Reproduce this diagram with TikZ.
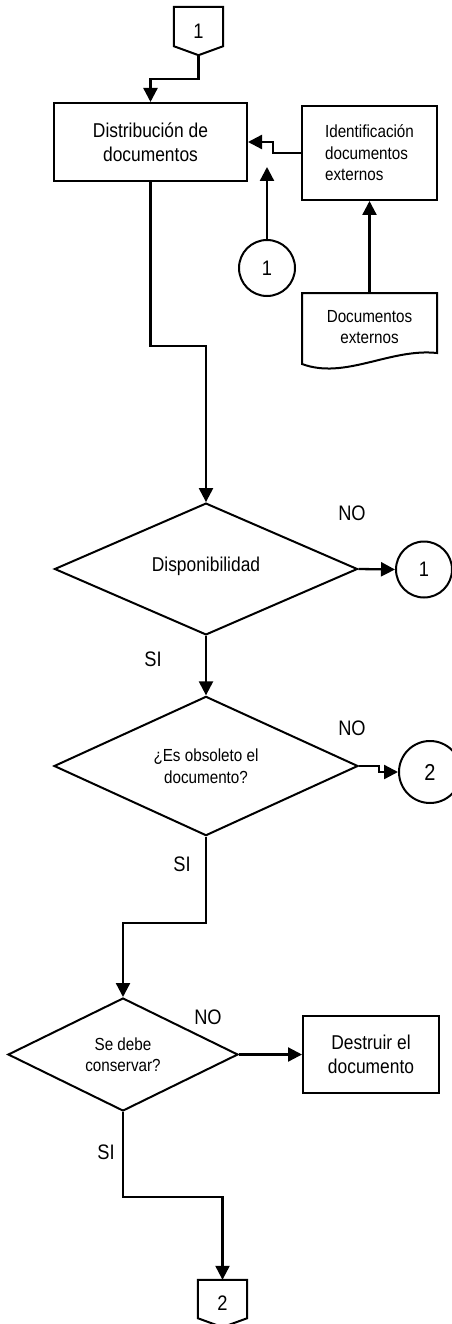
\documentclass[tikz,border=0pt]{standalone}
\usepackage{fontspec}
\setmainfont[FakeStretch=0.87]{Liberation Sans}
\usetikzlibrary{shapes.geometric,arrows.meta}
\begin{document}
\begin{tikzpicture}[x=1pt,y=-1pt,
  shp/.style={draw=black,line width=2pt,inner sep=0pt,align=center},
  box/.style={shp,rectangle},
  dia/.style={shp,diamond},
  circ/.style={shp,circle},
  conn/.style={line width=2.3pt,-{Triangle[length=14pt,width=14pt]}},
  big/.style={font=\fontsize{20}{24}\selectfont},
  med/.style={font=\fontsize{17.5}{21.5}\selectfont},
  lbl/.style={font=\fontsize{21}{25}\selectfont,inner sep=0pt},
  outline/.style={draw=black,line width=2pt,line join=miter},
]
\useasboundingbox (0,0) rectangle (452,1324);
\fill[white] (0,0) rectangle (452,1324);
\clip (0,0) rectangle (452,1324);

% off-page connector 1
\node[lbl,minimum width=49pt,minimum height=48pt] (off1) at (198.5,31) {1};
\draw[outline] (off1.north west) -- (off1.north east) -- ([yshift=9pt]off1.south east)
  -- (off1.south) -- ([yshift=9pt]off1.south west) -- cycle;

\node[box,big,minimum width=193pt,minimum height=78pt] (dist) at (150.5,142) {Distribución de\\documentos};
\node[box,med,align=left,minimum width=135pt,minimum height=94pt] (ident) at (369.5,153) {Identificación\\documentos\\externos};

% document shape
\draw[outline] (302,293) -- (437,293) -- (437,353)
  .. controls (390,348) and (345,380) .. (302,364) -- cycle;
\node[med,inner sep=0pt,align=center,minimum width=135pt,minimum height=68pt,anchor=north] (docs) at (369.5,293) {Documentos\\externos};

\node[circ,lbl,minimum size=56pt] (c1a) at (267,268) {1};

\node[dia,big,minimum width=303pt,minimum height=114pt] (d1) at (206,569) {\raisebox{9pt}{Disponibilidad}};
\node[circ,lbl,minimum size=56pt] (c1b) at (424,569.5) {1};

\node[dia,med,minimum width=304pt,minimum height=114pt] (d2) at (206,766) {¿Es obsoleto el\\documento?};
\node[circ,font=\fontsize{23}{27}\selectfont,minimum size=62pt] (c2) at (430,772) {2};

\node[dia,med,minimum width=230pt,minimum height=113pt] (d3) at (123,1054.5) {Se debe\\conservar?};
\node[box,big,minimum width=136pt,minimum height=77pt] (destr) at (371,1054.5) {Destruir el\\documento};

% off-page connector 2
\node[lbl,minimum width=49pt,minimum height=47pt] (off2) at (222.5,1303.5) {2};
\draw[outline] (off2.north west) -- (off2.north east) -- ([yshift=9pt]off2.south east)
  -- (off2.south) -- ([yshift=9pt]off2.south west) -- cycle;

% labels
\node[lbl] (no1) at (352,513) {NO};
\node[lbl] (si1) at (153,659) {SI};
\node[lbl] (no2) at (352,728) {NO};
\node[lbl] (si2) at (182,864) {SI};
\node[lbl] (no3) at (208,1017) {NO};
\node[lbl] (si3) at (106,1152) {SI};

% connectors
\draw[conn] (off1.south) -- ++(0,24) -| (dist.north);
\draw[conn] (ident.west) -- ++(-28,0) |- (dist.east);
\draw[conn] (c1a.north) -- ++(0,-72);
\draw[conn] (docs.north) -- (ident.south);
\draw[conn] (dist.south) -- ++(0,164) -| (d1.north);
\draw[conn] (d1.east) -- (c1b.west);
\draw[conn] (d1.south) -- (d2.north);
\draw[conn] (d2.east) -- ++(20,0) |- (c2.west);
\draw[conn] (d2.south) -- ++(0,86) -| (d3.north);
\draw[conn] (d3.east) -- (destr.west);
\draw[conn] (d3.south) -- ++(0,85) -| (off2.north);
\end{tikzpicture}
\end{document}
